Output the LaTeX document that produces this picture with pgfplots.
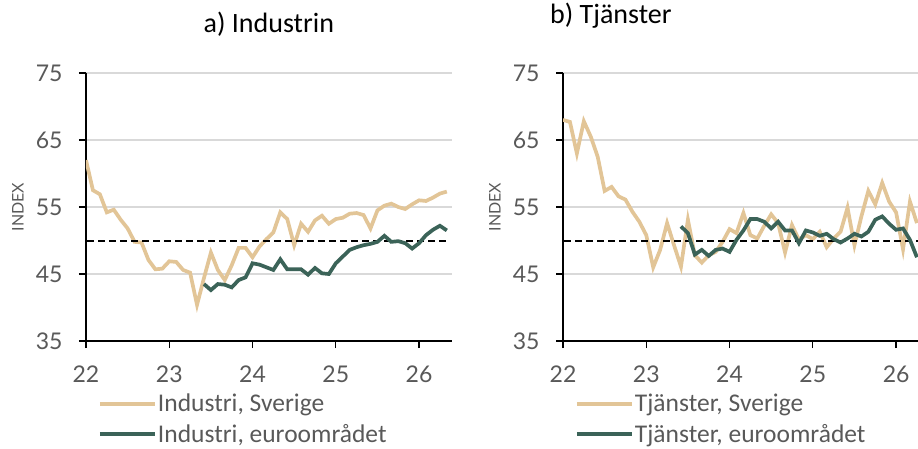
\documentclass[border=0pt]{standalone}
\usepackage{pgfplots}
\pgfplotsset{compat=1.18}
\usepackage{fontspec}
\setmainfont{Carlito}
\newfontfamily\lato{Lato}
\definecolor{tanc}{HTML}{E2C597}
\definecolor{eugreen}{HTML}{3B6358}
\definecolor{txtgrey}{HTML}{595959}
\definecolor{gridgrey}{HTML}{D9D9D9}

\pgfplotstableread{
m v
0 62.0
1 57.5
2 56.9
3 54.2
4 54.6
5 53.1
6 51.8
7 49.8
8 49.7
9 47.1
10 45.7
11 45.8
12 46.9
13 46.8
14 45.6
15 45.2
16 40.4
17 44.4
18 48.2
19 45.6
20 44.1
21 46.3
22 48.9
23 48.9
24 47.5
25 49.1
26 50.2
27 51.2
28 54.2
29 53.2
30 49.3
31 52.5
32 51.3
33 53.0
34 53.7
35 52.5
36 53.2
37 53.4
38 54.0
39 54.1
40 53.8
41 51.8
42 54.5
43 55.2
44 55.5
45 55.0
46 54.7
47 55.4
48 56.0
49 55.9
50 56.4
51 57.0
52 57.3
}\indse

\pgfplotstableread{
m v
17 43.5
18 42.6
19 43.5
20 43.4
21 43.0
22 44.1
23 44.5
24 46.6
25 46.4
26 46.0
27 45.6
28 47.2
29 45.7
30 45.7
31 45.7
32 44.9
33 45.9
34 45.1
35 45.0
36 46.6
37 47.6
38 48.6
39 49.0
40 49.3
41 49.5
42 49.8
43 50.7
44 49.8
45 49.9
46 49.6
47 48.8
48 49.6
49 50.8
50 51.6
51 52.2
52 51.5
}\indeu

\pgfplotstableread{
m v
0 68.0
1 67.7
2 63.0
3 67.8
4 65.5
5 62.5
6 57.4
7 58.0
8 56.6
9 56.1
10 54.3
11 52.8
12 50.8
13 46.0
14 48.6
15 52.6
16 49.3
17 46.1
18 53.1
19 47.8
20 46.7
21 47.8
22 48.3
23 49.8
24 51.7
25 51.1
26 54.1
27 50.8
28 50.3
29 52.2
30 53.9
31 52.6
32 48.2
33 52.3
34 50.1
35 50.8
36 50.2
37 51.3
38 49.0
39 50.3
40 51.3
41 54.9
42 49.3
43 53.6
44 57.4
45 55.4
46 58.6
47 55.8
48 54.2
49 48.7
50 55.8
51 52.6
}\tjse

\pgfplotstableread{
m v
17 52.1
18 51.1
19 47.9
20 48.6
21 47.7
22 48.6
23 48.8
24 48.3
25 50.1
26 51.5
27 53.2
28 53.2
29 52.8
30 51.8
31 52.8
32 51.5
33 51.5
34 49.6
35 51.5
36 51.2
37 50.7
38 51.0
39 50.2
40 49.7
41 50.3
42 51.0
43 50.6
44 51.3
45 53.1
46 53.6
47 52.5
48 51.6
49 51.8
50 50.1
51 47.5
}\tjeu

\pgfplotsset{
 mystyle/.style={
  scale only axis, width=365.7pt, height=268pt,
  xmin=0, xmax=52.7, ymin=35, ymax=75,
  axis x line=bottom, axis y line=left,
  axis line style={-, black, line width=1.3pt},
  xtick={0,12,24,36,48}, xticklabels={22,23,24,25,26},
  ytick={35,45,55,65,75},
  ymajorgrids, grid style={gridgrey, line width=1.2pt},
  tick align=outside, major tick length=7pt,
  tick style={black, line width=1.3pt},
  /pgf/number format/assume math mode=true,
  ticklabel style={font=\lato\fontsize{23}{27}\selectfont, text=txtgrey},
  yticklabel style={xshift=-13pt},
  xticklabel style={yshift=-14pt},
  ylabel={INDEX},
  ylabel style={at={(axis description cs:-0.186,0.5)}, anchor=center, font=\lato\fontsize{16}{19}\selectfont, text=txtgrey},
  legend style={draw=none, fill=none, font=\fontsize{25.5}{30}\selectfont, text=txtgrey,
    anchor=north west, at={(axis description cs:0.024,-0.182)}, cells={anchor=west}, row sep=7pt,
    nodes={inner xsep=1pt}},
  legend image code/.code={\draw[#1, line width=4pt] (0pt,0pt) -- (55pt,0pt);},
  title style={font=\fontsize{28}{32}\selectfont, text=black, anchor=center},
 }
}

\begin{document}
\begin{tikzpicture}[x=1pt,y=1pt]
\clip (0,0) rectangle (918,448);
\begin{axis}[mystyle, at={(86pt,107pt)}, anchor=south west,
  title={a) Industrin}, title style={at={(axis description cs:0.5,1.16)}}]
\addplot[tanc, line width=3.7pt] table[x=m,y=v]{\indse};
\addlegendentry{Industri, Sverige}
\addplot[black, line width=2pt, dash pattern=on 7pt off 4pt, forget plot] coordinates {(0.2,50) (52.2,50)};
\addplot[eugreen, line width=3.7pt] table[x=m,y=v]{\indeu};
\addlegendentry{Industri, euroområdet}
\end{axis}
\begin{axis}[mystyle, at={(563pt,107pt)}, anchor=south west,
  title={b) Tjänster}, title style={at={(axis description cs:0.131,1.19)}}]
\addplot[tanc, line width=3.7pt] table[x=m,y=v]{\tjse};
\addlegendentry{Tjänster, Sverige}
\addplot[black, line width=2pt, dash pattern=on 7pt off 4pt, forget plot] coordinates {(0.2,50) (52.2,50)};
\addplot[eugreen, line width=3.7pt] table[x=m,y=v]{\tjeu};
\addlegendentry{Tjänster, euroområdet}
\end{axis}
\end{tikzpicture}
\end{document}
